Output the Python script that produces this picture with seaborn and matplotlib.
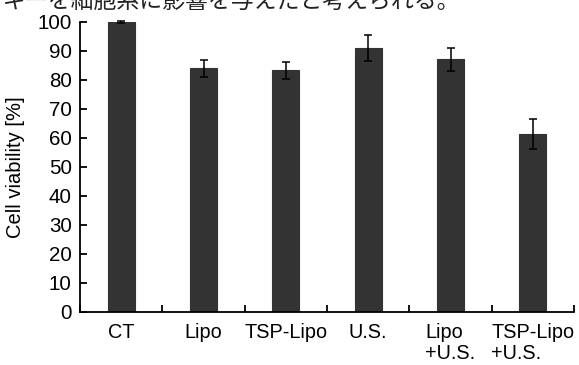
import matplotlib
matplotlib.use("Agg")
import matplotlib.pyplot as plt
import seaborn as sns
import pandas as pd

# data
groups = ["CT", "Lipo", "TSP-Lipo", "U.S.", "Lipo\n+U.S.", "TSP-Lipo\n+U.S."]
viability = [100.0, 84.0, 83.2, 90.8, 87.0, 61.2]
sd = [0.3, 2.9, 3.0, 4.5, 4.0, 5.1]
y_ticks = [0, 10, 20, 30, 40, 50, 60, 70, 80, 90, 100]
caption = "ギーを細胞系に影響を与えたと考えられる。"

df = pd.DataFrame({"group": groups, "viability": viability, "sd": sd})

sns.set_style("white")
plt.rcParams["font.family"] = ["Liberation Sans", "DejaVu Sans"]
plt.rcParams["text.color"] = "black"
plt.rcParams["axes.labelcolor"] = "black"
plt.rcParams["xtick.color"] = "black"
plt.rcParams["ytick.color"] = "black"

fig = plt.figure(figsize=(5.79, 3.65), dpi=100)
ax = fig.add_axes([80 / 579, 53.3 / 365, 494 / 579, 290 / 365])

sns.barplot(data=df, x="group", y="viability", color="#333333",
            width=0.33, edgecolor="#333333", linewidth=0.8,
            saturation=1, errorbar=None, ax=ax)
ax.errorbar(range(len(groups)), df["viability"], yerr=df["sd"], fmt="none",
            ecolor="black", elinewidth=1.1, capsize=3, capthick=1.1,
            clip_on=False, zorder=3)

ax.set_xlim(-0.5, len(groups) - 0.5)
ax.set_ylim(0, 100)
ax.set_yticks(y_ticks)
ax.set_ylabel("Cell viability [%]", fontsize=14.5, labelpad=9)
ax.set_xlabel("")

for s in ["top", "right"]:
    ax.spines[s].set_visible(False)
for s in ["left", "bottom"]:
    ax.spines[s].set_linewidth(1.3)
    ax.spines[s].set_color("black")

ax.tick_params(axis="y", direction="in", length=5, width=1.3,
               labelsize=14.8, pad=6, left=True)
ax.tick_params(axis="x", which="major", length=0, labelsize=14.3, pad=8)
ax.set_xticks([i - 0.5 for i in range(len(groups) + 1)], minor=True)
ax.tick_params(axis="x", which="minor", direction="in", length=5, width=1.3,
               bottom=True)
for lbl in ax.get_xticklabels():
    lbl.set_multialignment("left")
    lbl.set_linespacing(1.15)

# cropped line of body text at the very top of the picture
fig.text(0.005, 1 - 8 / 365, caption, fontsize=16.5, va="baseline",
         ha="left", color="#222222",
         family=["Noto Sans CJK JP", "DejaVu Sans"])

fig.savefig("out.png", dpi=100)
